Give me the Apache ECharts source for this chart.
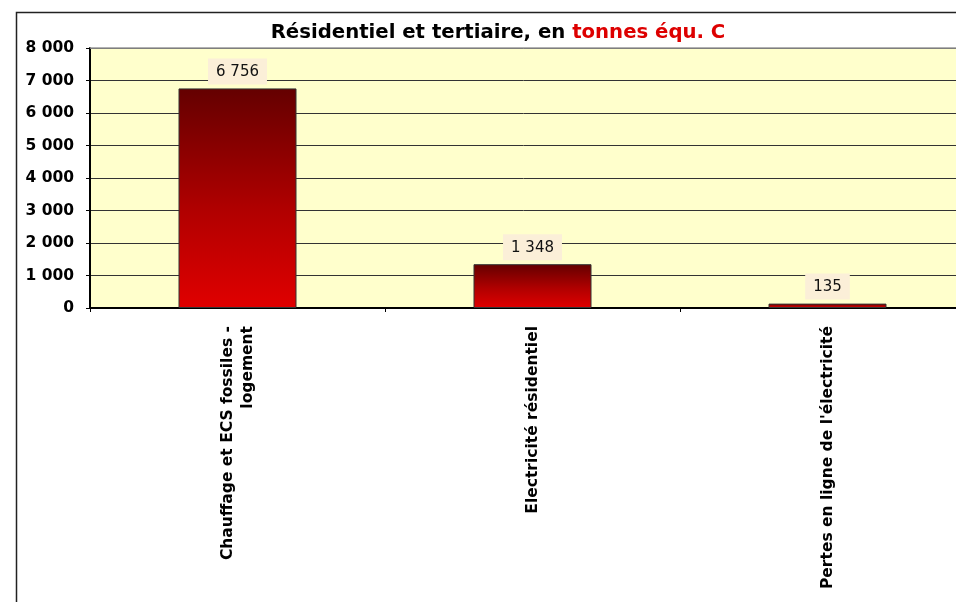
<!DOCTYPE html>
<html>
<head>
<meta charset="utf-8">
<script src="https://cdn.jsdelivr.net/npm/echarts@6/dist/echarts.min.js"></script>
<style>
html,body{margin:0;padding:0;background:#fff;}
#c{width:956px;height:602px;}
</style>
</head>
<body>
<div id="c"></div>
<script>
const categories = ['Chauffage et ECS fossiles -\nlogement', 'Electricité résidentiel', "Pertes en ligne de l'électricité"];
const values = [6756, 1348, 135];
const yTicks = [0, 1000, 2000, 3000, 4000, 5000, 6000, 7000, 8000];

const fmt = v => String(v).replace(/\B(?=(\d{3})+(?!\d))/g, ' ');

const chart = echarts.init(document.getElementById('c'), null, {renderer: 'canvas'});
chart.setOption({
  backgroundColor: '#ffffff',
  animation: false,
  textStyle: {fontFamily: 'DejaVu Sans'},
  title: {
    text: '{a|Résidentiel et tertiaire, en }{b|tonnes équ. C}',
    left: 493, top: 18, textAlign: 'center',
    textStyle: {
      rich: {
        a: {fontFamily: 'DejaVu Sans', fontWeight: 'bold', fontSize: 19.7, color: '#000'},
        b: {fontFamily: 'DejaVu Sans', fontWeight: 'bold', fontSize: 19.7, color: '#dd0000'}
      }
    }
  },
  grid: {left: 90, top: 48, width: 885, height: 260, show: true, backgroundColor: '#ffffcc', borderWidth: 0, outerBoundsMode: 'none', containLabel: false},
  xAxis: {
    type: 'category', data: categories,
    axisLine: {lineStyle: {color: '#000', width: 2}},
    axisTick: {show: true, length: 4, lineStyle: {color: '#000'}},
    axisLabel: {rotate: 90, interval: 0, margin: 18, fontWeight: 'bold', fontSize: 15.5, color: '#000', fontFamily: 'DejaVu Sans', lineHeight: 20, align: 'right'},
    splitLine: {show: false}
  },
  yAxis: {
    type: 'value', min: yTicks[0], max: yTicks[yTicks.length - 1], interval: 1000,
    axisLine: {show: true, lineStyle: {color: '#000', width: 2}},
    axisTick: {show: true, length: 4, lineStyle: {color: '#000'}},
    axisLabel: {formatter: fmt, fontWeight: 'bold', fontSize: 15.5, color: '#000', margin: 16, fontFamily: 'DejaVu Sans'},
    splitLine: {show: true, lineStyle: {color: '#333', width: 1}}
  },
  series: [{
    type: 'bar', data: values, barWidth: '40%',
    itemStyle: {
      color: new echarts.graphic.LinearGradient(0, 0, 0, 1, [
        {offset: 0, color: '#640000'},
        {offset: 0.55, color: '#b00000'},
        {offset: 1, color: '#e00000'}
      ]),
      borderColor: '#333', borderWidth: 1
    },
    label: {
      show: true, position: 'top', distance: 4, formatter: p => fmt(p.value),
      fontSize: 15, color: '#111', fontFamily: 'DejaVu Sans',
      backgroundColor: '#fbefd8', padding: [6, 8, 5, 8]
    }
  }],
  graphic: [{
    type: 'rect', left: 14, top: 10, z: 100, silent: true,
    shape: {width: 1000, height: 700},
    style: {fill: 'none', stroke: '#222', lineWidth: 1.5}
  }, {
    type: 'line', z: 50, silent: true,
    shape: {x1: 90, y1: 48, x2: 956, y2: 48},
    style: {stroke: '#999', lineWidth: 1.5}
  }]
});
</script>
</body>
</html>
